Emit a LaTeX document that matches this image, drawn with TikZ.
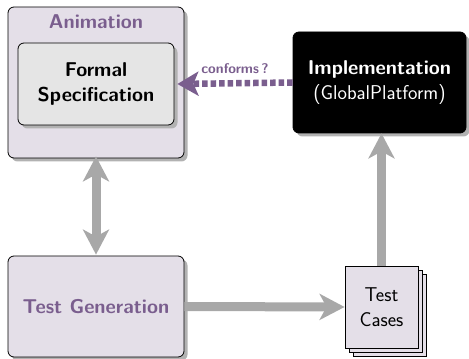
\documentclass[tikz,border=0pt]{standalone}
\usetikzlibrary{arrows.meta,shadows}
\definecolor{plum}{RGB}{122,94,142}
\definecolor{lavender}{RGB}{228,223,232}
\definecolor{specgray}{RGB}{229,229,229}
\definecolor{flowgray}{RGB}{168,168,168}
\definecolor{shadowgray}{RGB}{178,178,178}
\tikzset{
  bigtext/.style={font=\sffamily\fontsize{20}{24.5}\selectfont},
  bigbold/.style={font=\sffamily\bfseries\fontsize{20}{24.5}\selectfont},
  shadowed/.style={drop shadow={shadow xshift=3.5pt, shadow yshift=-3.5pt, fill=shadowgray, opacity=1}},
  panel/.style={draw=black, line width=0.8pt, rounded corners=6pt, shadowed, inner sep=0pt},
  page/.style={draw=black, line width=0.8pt, fill=lavender, minimum width=73pt, minimum height=82pt, inner sep=0pt},
  flow/.style={draw=flowgray, line width=9pt, -{Stealth[length=25pt, width=26pt, inset=7pt]}},
  flowboth/.style={draw=flowgray, line width=9pt, {Stealth[length=25pt, width=26pt, inset=7pt]}-{Stealth[length=25pt, width=26pt, inset=7pt]}},
  checkflow/.style={draw=plum, line width=6.5pt, dash pattern=on 5.5pt off 3pt, -{Stealth[length=21pt, width=24pt, inset=5pt]}},
}
\begin{document}
\begin{tikzpicture}[x=1pt, y=1pt]
\useasboundingbox (0,0) rectangle (469,359);

% Animation frame holding the formal specification
\node[panel, fill=lavender, minimum width=176pt, minimum height=151pt] (anim) at (96,276.5) {};
\node[bigbold, text=plum] (animlabel) at (96,337) {Animation};
\node[panel, fill=specgray, minimum width=156pt, minimum height=82pt, align=center, bigbold] (spec) at (96,275) {Formal\\Specification};

% Implementation under test
\node[panel, fill=black, text=white, minimum width=173pt, minimum height=101pt, align=center, bigtext] (impl) at (379.5,276.5)
  {\textbf{Implementation}\\(GlobalPlatform)};

% Test generation
\node[panel, fill=lavender, text=plum, minimum width=176pt, minimum height=101pt, bigbold] (gen) at (96,52.5) {Test Generation};

% Stack of test cases
\node[page] (tc3) at (389.5,44) {};
\node[page] (tc2) at (385.5,48) {};
\node[page, align=center, bigtext] (tc) at (381.5,52) {Test\\Cases};

% Flows
\draw[flowboth, shorten <=-2pt, shorten >=1pt] (anim.south) -- (gen.north);
\draw[flow] (gen.east) -- (tc.west);
\draw[flow] (tc.north) -- (tc.north |- impl.south);
\draw[checkflow] (impl.west) -- ([xshift=3pt]spec.east)
  node[pos=0.5, above=3.5pt, text=plum, font=\sffamily\bfseries\fontsize{14}{16}\selectfont] (conf) {conforms\,?};
\end{tikzpicture}
\end{document}
